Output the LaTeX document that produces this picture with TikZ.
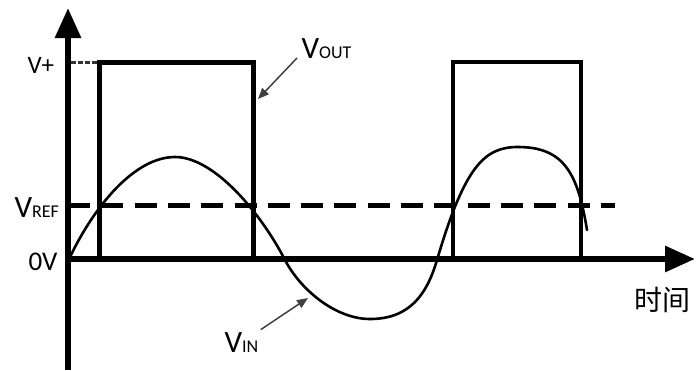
\documentclass[tikz,border=0pt]{standalone}
\usepackage{fontspec}
\setmainfont{Carlito}
\newfontfamily\cjk{Noto Sans CJK SC}
\usetikzlibrary{arrows.meta}
\newcommand{\vsig}[1]{{\fontsize{31}{31}\selectfont V}{\fontsize{18}{18}\selectfont #1}}

\begin{document}
\begin{tikzpicture}[x=1pt, y=-1pt, line width=5pt,
    axis/.style={line width=6pt, -{Triangle[length=30pt, width=25pt]}},
    lbl/.style={inner sep=0pt, anchor=base west},
    ptr/.style={draw=black!75, line width=1.5pt, -{Triangle[length=11pt, width=9pt]}}]
      \useasboundingbox (0,0) rectangle (696,370);
      % ejes
      \coordinate (O) at (68,259);
      \coordinate (ybot) at (68,370);
      \coordinate (ytop) at (68,8);
      \coordinate (xend) at (695,259);
      \draw[axis] (ybot) -- (ytop);
      \draw[axis] (O) -- (xend);
      % niveles
      \coordinate (vp) at (68,62);
      \coordinate (vr) at (68,205);
      \coordinate (vrend) at (615,205);
      \draw[line width=3pt, black!80, dash pattern=on 5pt off 2pt] ([xshift=3pt]vp) -- (97,62);
      \draw[line width=5pt, dash pattern=on 22pt off 11.3pt] (vr) -- (vrend);
      % pulsos de salida
      \draw (99,259) -- (99,62) -- (253,62) -- (253,259);
      \draw[line width=4pt] (453,259) -- (453,62) -- (581,62) -- (581,259);
      % entrada
      \draw[line width=2.6pt, line cap=round]
        (70,257) .. controls (95,205) and (135,157) .. (175,157)
        .. controls (215,157) and (262,215) .. (285,260)
        .. controls (300,289) and (335,319) .. (370,319)
        .. controls (410,319) and (427,294) .. (437,260)
        .. controls (465,165) and (485,147) .. (518,147)
        .. controls (565,147) and (578,175) .. (587,230);
      % etiquetas
      \node[lbl, font=\fontsize{25}{25}\selectfont] (vplus) at (25,73) {V+};
      \node[lbl] (vref) at (12,217) {\vsig{REF}};
      \node[lbl, font=\fontsize{27}{27}\selectfont] (zero) at (26,270) {0V};
      \node[lbl] (vout) at (299,58) {\vsig{OUT}};
      \node[lbl] (vin) at (222,352) {\vsig{IN}};
      \node[font=\cjk\fontsize{28}{28}\selectfont, inner sep=0pt] (tiempo) at (662,300) {时间};
      \coordinate (outtip) at (258,99);
      \coordinate (intip) at (308,298);
      \draw[ptr] ([xshift=-2pt]vout.base west) -- (outtip);
      \draw[ptr] (vin.north east) -- (intip);
    \end{tikzpicture}
\end{document}
